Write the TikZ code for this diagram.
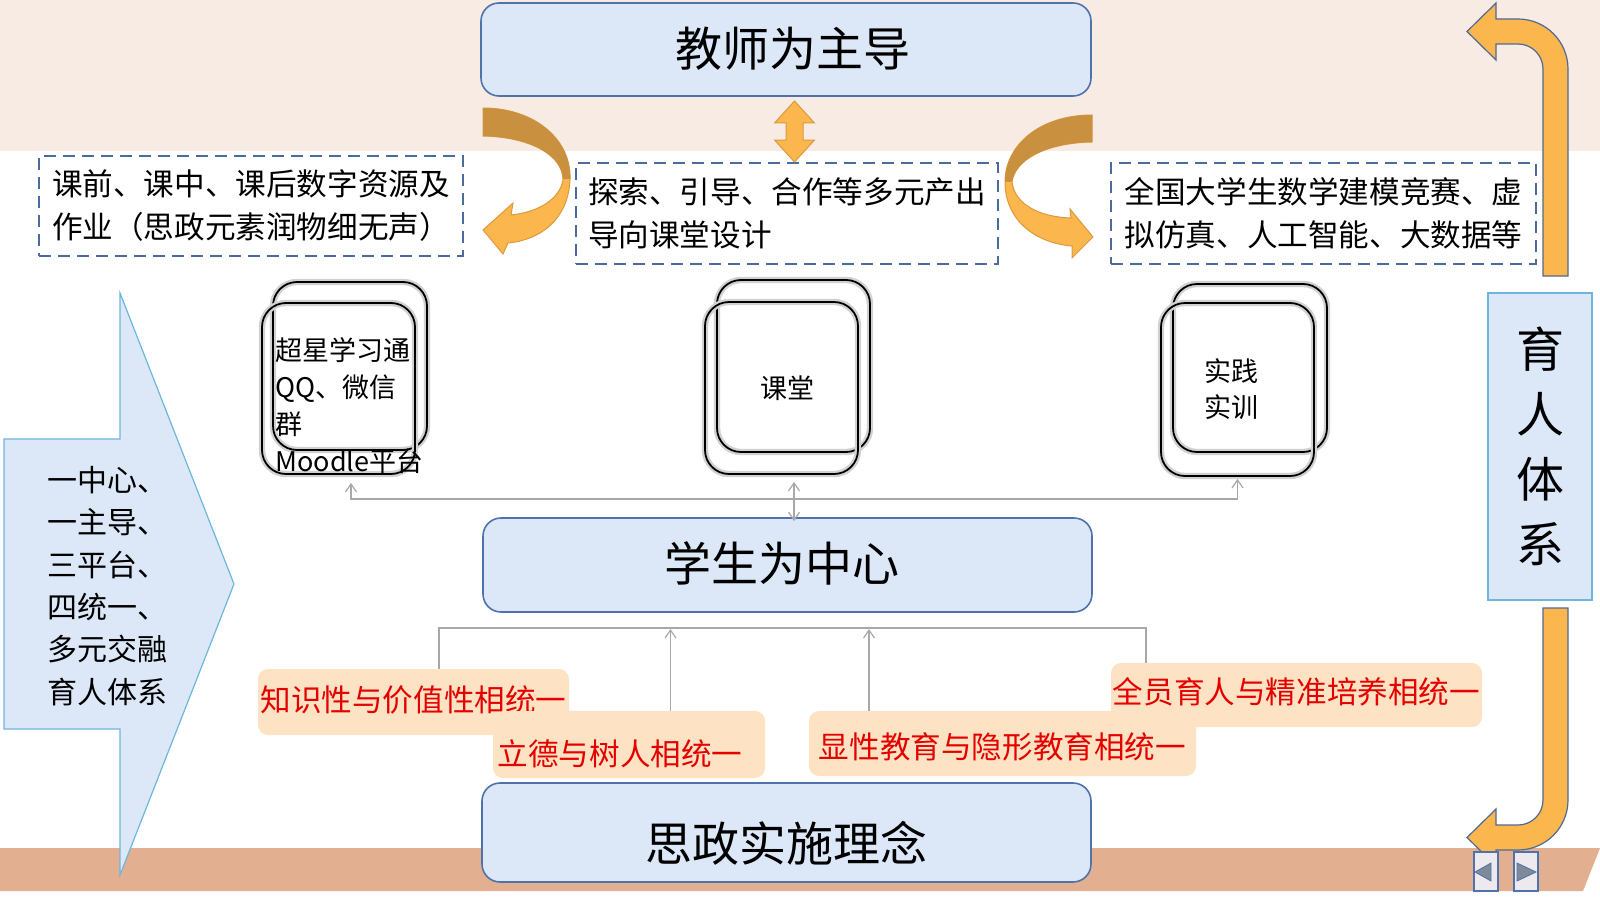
\documentclass[tikz,border=0pt]{standalone}
\usepackage{fontspec}
\setmainfont{Noto Sans CJK SC}
\usetikzlibrary{arrows.meta,calc}
\newcommand\vshft[2]{\raisebox{#1}[\height][\depth]{#2}}
\definecolor{bandTop}{HTML}{F8EBE4}
\definecolor{bandBot}{HTML}{E3AF91}
\definecolor{boxF}{HTML}{DCE8F8}
\definecolor{boxB}{HTML}{4F72AD}
\definecolor{dashC}{HTML}{4A6B9C}
\definecolor{orng}{HTML}{FBB64D}
\definecolor{dorng}{HTML}{C99040}
\definecolor{orngB}{HTML}{DC9A3E}
\definecolor{uB}{HTML}{506A93}
\definecolor{labF}{HTML}{FDE3C3}
\definecolor{labR}{HTML}{E50000}
\definecolor{lineG}{HTML}{A8A8A8}
\definecolor{ltB}{HTML}{6DB6DC}
\definecolor{btnF}{HTML}{EEE9EE}
\definecolor{triF}{HTML}{7E8A99}
\begin{document}
\begin{tikzpicture}[x=0.5pt,y=-0.5pt,
 mainbox/.style={draw=boxB, line width=0.8pt, fill=boxF, rounded corners=9pt, font=\fontsize{23.5}{28}\selectfont, inner sep=0pt},
 dbox/.style={draw=dashC, line width=1pt, dash pattern=on 6pt off 3.5pt, fill=white, align=left, font=\fontsize{15.3}{21.5}\selectfont, inner sep=0pt},
 sq/.style={draw=black, line width=0.9pt, rounded corners=12pt, preaction={draw=black!18, line width=3.2pt}, inner sep=0pt},
 sqtxt/.style={font=\fontsize{13.5}{18.5}\selectfont, align=left, inner sep=0pt},
 lab/.style={fill=labF, rounded corners=5pt, text=labR, font=\fontsize{15.3}{18}\selectfont, inner sep=0pt},
 gl/.style={draw=lineG, line width=0.6pt},
 tip/.style={-{Straight Barb[length=4pt,width=5.5pt]}},
 bluebox/.style={draw=ltB, line width=0.6pt, fill=boxF},
 orangeU/.style={fill=orng, draw=uB, line width=0.6pt},
 btn/.style={draw=boxB, line width=0.6pt, fill=btnF, minimum width=12pt, minimum height=19.5pt, inner sep=0pt},
 tri/.style={fill=triF, draw=boxB, line width=0.4pt},
]
\useasboundingbox (0,0) rectangle (1600,899);
% background bands
\fill[bandTop] (0,0) rectangle (1600,151);
\fill[bandBot] (0,848) -- (1600,848) -- (1583,891) -- (0,891) -- cycle;

% left big arrow
\path[bluebox] (4,439) -- (120,439) -- (120,293) -- (234,584) -- (120,875) -- (120,729) -- (4,729) -- cycle;
\node[anchor=west, align=left, inner sep=0pt, font=\fontsize{15}{21.2}\selectfont] (la) at (47,586)
 {一中心、\\一主导、\\三平台、\\四统一、\\多元交融\\育人体系};

% right U arrows
\path[orangeU] (1543,276) -- (1543,69) .. controls (1543,55.2) and (1531.8,44) .. (1518,44)
 -- (1496,44) -- (1496,60) -- (1467,31.5) -- (1496,3) -- (1496,19) -- (1518,19)
 .. controls (1545.6,19) and (1568,41.4) .. (1568,69) -- (1568,276) -- cycle;
\path[orangeU] (1543,608) -- (1543,800) .. controls (1543,813.8) and (1531.8,825) .. (1518,825)
 -- (1496,825) -- (1496,809) -- (1467,837.5) -- (1496,866) -- (1496,850) -- (1518,850)
 .. controls (1545.6,850) and (1568,827.6) .. (1568,800) -- (1568,608) -- cycle;

% main boxes
\node[mainbox, minimum width=305pt, minimum height=46.5pt] (teach) at (786,49.5) {\hspace*{7pt}\vshft{0.5pt}{教师为主导}};
\node[mainbox, minimum width=304.5pt, minimum height=47pt] (stu) at (787.5,565) {\hspace*{-6pt}\vshft{1pt}{学生为中心}};
\node[mainbox, minimum width=304.5pt, minimum height=49.5pt] (sz) at (786.5,832.5) {\vshft{-5.5pt}{思政实施理念}};

% dashed boxes
\node[dbox, minimum width=212pt, minimum height=50pt] (d1) at (251,206)
 {课前、课中、课后数字资源及\\作业（思政元素润物细无声）};
\node[dbox, minimum width=211pt, minimum height=50.5pt] (d2) at (787,213.5)
 {探索、引导、合作等多元产出\\导向课堂设计};
\node[dbox, minimum width=212.5pt, minimum height=50.5pt] (d3) at (1323.5,213.5)
 {全国大学生数学建模竞赛、虚\\拟仿真、人工智能、大数据等};

% curved arrows
\def\lcurve{(483,108) .. controls (535,108) and (572,140) .. (570,180) .. controls (568,220) and (540,240) .. (508,243) -- (503,254) -- (483,230) -- (513,203) -- (511,215) .. controls (540,212) and (560,198) .. (563,180) .. controls (563,155) and (530,137) .. (483,136) -- cycle}
\def\rcurve{(1092,115) .. controls (1040,115) and (1005,145) .. (1005,182) .. controls (1005,220) and (1035,243) .. (1072,246) -- (1072,258) -- (1093,237) -- (1070,209) -- (1071,218) .. controls (1040,217) and (1015,205) .. (1012,182) .. controls (1015,160) and (1045,143) .. (1092,142) -- cycle}
\path[fill=orng, draw=orngB, line width=0.5pt] \lcurve;
\begin{scope}
 \clip (450,95) rectangle (600,178);
 \path[fill=dorng] \lcurve;
\end{scope}
\path[fill=orng, draw=orngB, line width=0.5pt] \rcurve;
\begin{scope}
 \clip (990,95) rectangle (1110,181);
 \path[fill=dorng] \rcurve;
\end{scope}

% double vertical arrow between teach and d2
\path[fill=orng, draw=orngB, line width=0.5pt]
 (794.5,101) -- (814.5,123) -- (803,123) -- (803,140) -- (814.5,140) -- (794.5,162)
 -- (774.5,140) -- (786,140) -- (786,123) -- (774.5,123) -- cycle;

% rounded squares
\node[sq, minimum width=77pt, minimum height=84pt] (g1b) at (350,366) {};
\node[sq, minimum width=76.5pt, minimum height=85.5pt] (g1) at (338.5,388.5) {};
\node[sqtxt, anchor=west] (g1t) at (275,406) {超星学习通\\QQ、微信\\群\\Moodle平台};
\node[sq, minimum width=76.5pt, minimum height=86pt] (g2b) at (793.5,366) {};
\node[sq, minimum width=76.5pt, minimum height=86pt, font=\fontsize{13.5}{18}\selectfont] (g2) at (781.5,388) {\hspace*{5.5pt}课堂};
\node[sq, minimum width=77pt, minimum height=84pt] (g3b) at (1250,368) {};
\node[sq, minimum width=76.5pt, minimum height=86.5pt, font=\fontsize{13.5}{18}\selectfont, align=center] (g3) at (1237.5,389.5) {\hspace*{-6pt}实践\\\hspace*{-6pt}实训};

% upper connectors
\coordinate (hub) at (794,499);
\draw[gl,tip] (hub) -| ([xshift=6.25pt,yshift=-4pt]g1.south);
\draw[gl,tip] (hub) -| ([yshift=-1pt]g3.south);
\draw[gl,{Straight Barb[length=4pt,width=5.5pt]}-{Straight Barb[length=4pt,width=5.5pt]}]
 ([xshift=6.25pt,yshift=-3.5pt]g2.south) -- ([xshift=6.25pt,yshift=-2pt]g2.south |- stu.north);

% labels
\node[lab, minimum width=155.5pt, minimum height=33pt] (zs) at (413.5,702) {\vshft{1pt}{知识性与价值性相统一}};
\node[lab, minimum width=136pt, minimum height=33.5pt] (ld) at (629,744.5) {\hspace*{-9pt}\vshft{-4.5pt}{立德与树人相统一}};
\node[lab, minimum width=185.5pt, minimum height=32pt] (qy) at (1296.5,695) {\vshft{1.5pt}{全员育人与精准培养相统一}};
\node[lab, minimum width=193.5pt, minimum height=32.5pt] (xs) at (1002.5,743.5) {\vshft{-1.5pt}{显性教育与隐形教育相统一}};

% lower connectors
\coordinate (bl) at (439,628);
\coordinate (br) at (1146,628);
\draw[gl] ([xshift=12.75pt]zs.north) -- (bl) -- (br) -- ([xshift=-75.25pt]qy.north);
\draw[gl,tip] ([xshift=20.75pt]ld.north) -- ([xshift=20.75pt,yshift=-0.5pt]ld.north |- bl);
\draw[gl,tip] ([xshift=-66.75pt]xs.north) -- ([xshift=-66.75pt,yshift=-0.5pt]xs.north |- bl);

% right box
\node[bluebox, minimum width=52pt, minimum height=153.5pt, align=center, inner sep=0pt, font=\fontsize{24}{32.5}\selectfont] (yr) at (1540,446.5) {育\\人\\体\\系};

% navigation buttons
\node[btn] (btnL) at (1486,871.5) {};
\node[btn] (btnR) at (1526,871.5) {};
\path[tri] (1475,872) -- (1491,863) -- (1491,881) -- cycle;
\path[tri] (1536,872) -- (1517,863) -- (1517,881) -- cycle;
\end{tikzpicture}
\end{document}
